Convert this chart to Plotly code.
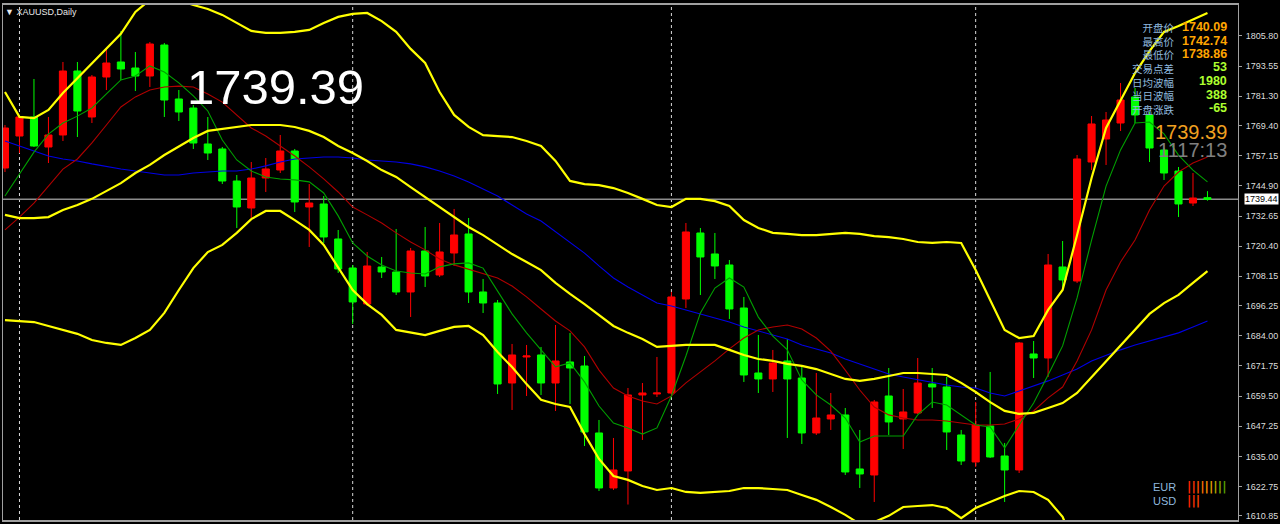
import plotly.graph_objects as go

# ---------------- data ----------------
bar_index = list(range(84))

opens = [1752.14, 1765.13, 1772.85, 1760.67, 1765.54, 1791.52, 1772.85, 1789.09, 1795.18, 1792.74,
         1789.49, 1802.08, 1780.16, 1776.50, 1761.89, 1759.86, 1746.86, 1735.90, 1748.08, 1751.33,
         1759.04, 1736.31, 1737.53, 1723.32, 1711.54, 1696.93, 1711.95, 1709.92, 1701.80, 1718.44,
         1708.70, 1717.63, 1725.35, 1701.80, 1697.33, 1664.85, 1675.41, 1676.22, 1664.85, 1673.38,
         1671.75, 1644.55, 1622.22, 1629.13, 1659.98, 1660.39, 1660.79, 1698.96, 1725.75, 1717.23,
         1712.76, 1695.30, 1668.91, 1666.48, 1673.78, 1666.88, 1644.55, 1650.24, 1651.86, 1629.94,
         1627.50, 1659.57, 1650.24, 1652.67, 1664.45, 1663.23, 1643.74, 1632.78, 1647.39, 1635.21,
         1629.53, 1676.63, 1675.00, 1711.95, 1706.26, 1754.58, 1763.92, 1770.41, 1780.97, 1773.66,
         1759.45, 1750.92, 1737.93, 1740.09]
highs = [1769.60, 1773.66, 1788.28, 1772.85, 1795.18, 1795.18, 1789.90, 1800.86, 1807.76, 1799.24,
         1803.30, 1802.89, 1783.81, 1777.72, 1772.85, 1760.67, 1749.30, 1754.58, 1756.20, 1765.54,
         1759.86, 1745.65, 1740.77, 1726.97, 1712.76, 1718.04, 1716.01, 1727.38, 1719.66, 1728.19,
         1729.81, 1735.50, 1731.84, 1707.08, 1698.55, 1680.69, 1680.28, 1679.47, 1688.40, 1685.15,
         1675.81, 1649.83, 1642.52, 1662.82, 1664.85, 1675.41, 1701.80, 1729.81, 1727.78, 1725.75,
         1714.79, 1699.77, 1684.34, 1678.25, 1682.72, 1671.35, 1668.91, 1660.79, 1654.70, 1645.77,
         1657.95, 1670.94, 1662.42, 1675.00, 1670.94, 1667.29, 1645.77, 1657.14, 1669.32, 1640.49,
         1681.50, 1681.90, 1717.23, 1722.50, 1757.42, 1773.25, 1774.88, 1786.65, 1784.62, 1774.88,
         1760.26, 1752.55, 1750.11, 1742.74]
lows = [1750.52, 1758.23, 1760.67, 1754.17, 1763.10, 1764.73, 1770.41, 1783.81, 1787.87, 1783.40,
        1785.03, 1772.85, 1771.22, 1759.86, 1755.39, 1745.65, 1727.78, 1731.84, 1742.40, 1750.11,
        1734.28, 1720.07, 1721.69, 1709.51, 1688.81, 1696.11, 1707.48, 1700.58, 1691.65, 1703.83,
        1707.89, 1712.36, 1697.33, 1693.27, 1660.39, 1653.89, 1659.57, 1659.98, 1653.48, 1656.33,
        1639.27, 1621.00, 1621.41, 1615.50, 1641.71, 1659.17, 1659.98, 1695.30, 1700.58, 1707.08,
        1690.84, 1665.26, 1660.79, 1661.20, 1642.52, 1640.09, 1643.74, 1645.77, 1627.50, 1622.22,
        1616.54, 1643.74, 1638.06, 1652.27, 1654.70, 1637.65, 1631.56, 1630.75, 1634.40, 1616.54,
        1628.31, 1666.88, 1667.29, 1702.61, 1705.45, 1751.33, 1753.36, 1767.16, 1770.41, 1754.58,
        1747.27, 1732.25, 1736.71, 1738.86]
closes = [1768.38, 1772.85, 1761.07, 1765.54, 1791.52, 1775.28, 1789.09, 1794.77, 1792.34, 1789.49,
          1802.49, 1779.75, 1774.88, 1762.29, 1758.23, 1746.86, 1736.31, 1748.08, 1751.74, 1759.04,
          1738.34, 1737.93, 1724.13, 1711.14, 1697.74, 1712.36, 1709.92, 1701.80, 1718.44, 1708.29,
          1718.04, 1724.94, 1701.80, 1697.33, 1664.45, 1676.22, 1675.81, 1664.85, 1673.78, 1670.94,
          1644.96, 1622.22, 1629.53, 1659.98, 1660.79, 1660.79, 1699.77, 1726.16, 1716.01, 1712.36,
          1694.90, 1668.10, 1666.48, 1672.97, 1666.48, 1644.55, 1650.64, 1651.86, 1628.72, 1627.91,
          1657.14, 1649.02, 1653.08, 1664.85, 1663.23, 1644.96, 1633.18, 1647.80, 1634.81, 1629.53,
          1681.09, 1675.00, 1712.76, 1706.67, 1755.80, 1770.01, 1771.63, 1779.75, 1773.66, 1760.26,
          1750.11, 1737.53, 1739.96, 1739.39]

boll_upper = [1783.0, 1772.9, 1772.4, 1775.7, 1782.6, 1788.7, 1794.4, 1800.5, 1806.6, 1815.5,
              1820.4, 1821.6, 1820.4, 1818.3, 1816.7, 1814.3, 1811.0, 1807.8, 1807.0, 1807.0,
              1807.4, 1808.2, 1811.0, 1813.5, 1814.7, 1815.1, 1811.8, 1807.4, 1800.5, 1794.8,
              1783.0, 1773.7, 1768.8, 1765.5, 1765.1, 1764.7, 1763.1, 1761.1, 1755.0, 1746.9,
              1745.6, 1745.2, 1744.0, 1742.0, 1739.6, 1737.1, 1736.3, 1739.6, 1739.6, 1738.7,
              1736.7, 1731.0, 1727.8, 1725.8, 1725.4, 1724.9, 1724.9, 1725.4, 1725.8, 1725.4,
              1724.5, 1724.1, 1723.3, 1722.1, 1721.7, 1722.1, 1721.7, 1710.7, 1698.6, 1686.4,
              1683.1, 1683.9, 1694.5, 1702.6, 1724.9, 1748.1, 1768.4, 1779.8, 1790.7, 1799.6,
              1807.4, 1809.8, 1812.6, 1815.1]
boll_mid = [1733.1, 1731.8, 1731.8, 1732.2, 1735.1, 1737.1, 1739.6, 1742.8, 1746.0, 1750.1,
            1753.4, 1757.4, 1760.7, 1764.3, 1767.2, 1768.0, 1768.8, 1769.6, 1769.6, 1769.6,
            1768.8, 1767.2, 1764.7, 1761.1, 1758.2, 1755.0, 1751.3, 1748.5, 1744.4, 1740.4,
            1736.3, 1732.2, 1728.2, 1724.9, 1720.9, 1717.2, 1714.0, 1710.7, 1705.5, 1701.0,
            1696.9, 1692.5, 1688.0, 1685.2, 1682.7, 1679.5, 1679.9, 1680.3, 1680.3, 1680.3,
            1678.3, 1676.2, 1674.6, 1673.8, 1672.6, 1671.8, 1670.5, 1668.5, 1666.5, 1665.7,
            1666.5, 1667.7, 1668.9, 1668.9, 1668.5, 1668.1, 1664.9, 1661.2, 1657.1, 1653.5,
            1652.3, 1652.7, 1654.7, 1656.7, 1660.8, 1667.3, 1673.8, 1680.3, 1686.4, 1692.9,
            1697.3, 1700.6, 1705.5, 1710.3]
boll_lower = [1690.4, 1690.0, 1689.6, 1688.0, 1686.4, 1684.8, 1682.3, 1681.1, 1680.3, 1683.1,
              1686.4, 1693.3, 1702.6, 1711.5, 1718.0, 1720.9, 1725.8, 1731.4, 1734.7, 1734.7,
              1731.0, 1727.0, 1720.9, 1712.0, 1702.6, 1696.9, 1692.5, 1686.4, 1685.2, 1684.3,
              1686.0, 1687.6, 1688.0, 1684.3, 1677.4, 1671.3, 1664.4, 1658.0, 1656.3, 1655.1,
              1644.1, 1634.0, 1627.1, 1625.5, 1623.0, 1621.4, 1622.2, 1620.6, 1620.2, 1620.6,
              1621.0, 1622.2, 1622.2, 1621.8, 1621.4, 1619.4, 1617.4, 1614.5, 1611.3, 1607.6,
              1608.4, 1610.9, 1614.5, 1614.9, 1615.3, 1614.1, 1610.0, 1614.1, 1616.5, 1619.0,
              1621.0, 1620.6, 1617.4, 1610.5, 1596.6, 1586.5, 1579.2, 1580.8, 1582.0, 1586.1,
              1587.3, 1591.4, 1598.3, 1605.6]
ma_fast = [1740.8, 1749.7, 1758.6, 1765.9, 1770.4, 1773.2, 1776.5, 1782.2, 1787.9, 1789.5,
           1793.6, 1791.1, 1786.7, 1781.4, 1775.3, 1763.5, 1755.4, 1750.9, 1748.5, 1747.7,
           1747.3, 1746.5, 1742.0, 1732.7, 1721.7, 1716.4, 1712.8, 1710.3, 1709.5, 1709.1,
           1712.0, 1713.2, 1713.6, 1711.5, 1702.2, 1692.9, 1685.2, 1678.3, 1671.4, 1673.0,
           1665.3, 1655.5, 1648.6, 1646.6, 1644.1, 1646.6, 1659.6, 1675.8, 1693.3, 1703.4,
           1707.5, 1703.8, 1691.6, 1683.9, 1678.3, 1666.1, 1660.0, 1655.9, 1650.6, 1640.9,
           1643.3, 1643.3, 1643.3, 1651.9, 1657.1, 1655.9, 1651.9, 1647.8, 1647.0, 1638.5,
           1647.8, 1656.7, 1668.1, 1679.9, 1699.4, 1722.9, 1744.8, 1759.5, 1770.4, 1770.8,
           1766.0, 1757.4, 1751.3, 1746.5]
ma_mid = [1727.0, 1732.2, 1737.9, 1744.8, 1751.7, 1755.8, 1762.3, 1769.6, 1776.9, 1781.0,
          1783.8, 1785.0, 1785.4, 1785.0, 1782.2, 1778.9, 1773.7, 1768.4, 1765.1, 1761.1,
          1757.0, 1752.6, 1747.7, 1742.4, 1736.3, 1733.1, 1729.8, 1725.8, 1722.1, 1718.9,
          1715.2, 1712.8, 1711.1, 1709.5, 1707.5, 1704.2, 1699.8, 1694.9, 1690.0, 1686.0,
          1679.5, 1670.1, 1662.8, 1659.6, 1657.5, 1656.3, 1659.6, 1664.9, 1669.3, 1673.8,
          1678.7, 1683.1, 1686.4, 1687.6, 1688.4, 1686.8, 1683.1, 1677.8, 1670.1, 1662.0,
          1655.1, 1651.9, 1650.6, 1649.8, 1649.8, 1649.4, 1648.6, 1647.8, 1647.8, 1648.2,
          1650.2, 1653.5, 1658.8, 1663.2, 1673.8, 1686.4, 1702.6, 1714.0, 1722.9, 1735.1,
          1744.8, 1750.5, 1754.2, 1756.6]
ma_slow = [1763.1, 1761.1, 1759.0, 1757.0, 1755.8, 1755.0, 1753.8, 1752.6, 1751.7, 1750.9,
           1750.1, 1749.3, 1749.3, 1750.1, 1750.5, 1750.9, 1750.9, 1751.7, 1753.0, 1754.6,
           1755.8, 1756.2, 1756.6, 1756.6, 1756.2, 1755.4, 1755.0, 1754.6, 1753.8, 1752.6,
           1750.9, 1748.9, 1746.5, 1743.6, 1740.8, 1737.1, 1733.5, 1730.6, 1726.2, 1722.1,
           1717.6, 1712.4, 1707.5, 1703.8, 1700.6, 1697.3, 1696.1, 1694.5, 1692.9, 1691.3,
           1689.6, 1687.6, 1686.0, 1684.3, 1682.7, 1680.3, 1678.7, 1677.0, 1674.6, 1672.6,
           1670.5, 1668.5, 1667.3, 1666.1, 1664.9, 1664.0, 1663.2, 1662.8, 1660.8, 1659.6,
           1661.6, 1663.6, 1665.7, 1668.1, 1670.5, 1673.8, 1676.2, 1678.3, 1680.3, 1681.9,
           1683.5, 1685.2, 1687.6, 1690.0]

period_separators = [1, 24, 46, 67]
price_ticks = [1805.80, 1793.55, 1781.30, 1769.40, 1757.15, 1744.90, 1732.65, 1720.40, 1708.15,
               1696.25, 1684.00, 1671.75, 1659.50, 1647.25, 1635.00, 1622.75, 1610.85]
bid_line = 1739.44
symbol_title = "XAUUSD,Daily"
big_price = "1739.39"
info_labels = ["开盘价", "最高价", "最低价", "交易点差", "日均波幅", "当日波幅", "开盘涨跌"]
info_values = ["1740.09", "1742.74", "1738.86", "53", "1980", "388", "-65"]
info_colors = ["#FFA500", "#FFA500", "#FFA500", "#ADFF2F", "#ADFF2F", "#ADFF2F", "#ADFF2F"]
clock_text = "1117:13"
currencies = ["EUR", "USD"]
strength_colors = [["#FF2200", "#FF3300", "#FF5000", "#FF7000", "#FF9000", "#E0A000", "#B0A800", "#80A800", "#58A000"],
                   ["#FF2200", "#FF3300", "#FF4400"]]

# ---------------- layout geometry ----------------
FIG_W, FIG_H = 1280, 524
ML, MR, MT, MB = 2, 36, 5, 4
PW, PH = FIG_W - ML - MR, FIG_H - MT - MB
X_RANGE = [-0.137, 85.107]
Y_RANGE = [1609.22, 1818.32]


def px(x):
    return (x - ML) / PW


def py(y):
    return 1 - (y - MT) / PH


fig = go.Figure()

fig.add_trace(go.Candlestick(
    x=bar_index, open=opens, high=highs, low=lows, close=closes,
    increasing=dict(line=dict(color="#FF0000", width=1), fillcolor="#FF0000"),
    decreasing=dict(line=dict(color="#00FF00", width=1), fillcolor="#00FF00"),
    whiskerwidth=0, showlegend=False, hoverinfo="skip",
))

line_specs = [
    (ma_slow, "#0000E6", 1.1),
    (ma_mid, "#B00000", 1.1),
    (ma_fast, "#00A000", 1.1),
    (boll_upper, "#FFFF00", 2.2),
    (boll_mid, "#FFFF00", 2.2),
    (boll_lower, "#FFFF00", 2.2),
]
for vals, col, w in line_specs:
    fig.add_trace(go.Scatter(x=bar_index, y=vals, mode="lines",
                             line=dict(color=col, width=w), showlegend=False, hoverinfo="skip"))

shapes = []
for s in period_separators:
    shapes.append(dict(type="line", xref="x", yref="paper", x0=s, x1=s, y0=0, y1=1,
                       line=dict(color="#D8D8D8", width=1, dash="3px,3px"), layer="below"))
shapes.append(dict(type="line", xref="paper", yref="y", x0=0, x1=1, y0=bid_line, y1=bid_line,
                   line=dict(color="#8C8C8C", width=1.5), layer="below"))

ann = []
ann.append(dict(xref="paper", yref="paper", x=px(2), y=py(12), xanchor="left", yanchor="middle",
                text="▼ " + symbol_title, showarrow=False,
                font=dict(family="Liberation Sans", size=9, color="#E8E8E8")))
ann.append(dict(xref="paper", yref="paper", x=px(185), y=py(87), xanchor="left", yanchor="middle",
                text=big_price, showarrow=False,
                font=dict(family="Liberation Sans", size=49, color="#FFFFFF")))
# label column as one multi-line block (line pitch ~13.6 px like the reference)
ann.append(dict(xref="paper", yref="paper", x=px(1183), y=py(68), xanchor="right", yanchor="middle",
                align="right", text="<br>".join(info_labels), showarrow=False,
                font=dict(family="Noto Sans CJK SC", size=10.5, color="#8FB8DE")))
row_y = [27, 40.5, 54, 67.5, 81, 94.5, 108]
for val, col, yy in zip(info_values, info_colors, row_y):
    ann.append(dict(xref="paper", yref="paper", x=px(1235), y=py(yy), xanchor="right", yanchor="middle",
                    text="<b>" + val + "</b>", showarrow=False,
                    font=dict(family="Liberation Sans", size=12.5, color=col)))
ann.append(dict(xref="paper", yref="paper", x=px(1235), y=py(132), xanchor="right", yanchor="middle",
                text=big_price, showarrow=False,
                font=dict(family="Liberation Sans", size=20, color="#F0A020")))
ann.append(dict(xref="paper", yref="paper", x=px(1235), y=py(150), xanchor="right", yanchor="middle",
                text=clock_text, showarrow=False,
                font=dict(family="Liberation Sans", size=20, color="#808080")))
for k, (cur, cols) in enumerate(zip(currencies, strength_colors)):
    yy = 487 + 14 * k
    ann.append(dict(xref="paper", yref="paper", x=px(1184), y=py(yy), xanchor="right", yanchor="middle",
                    text=cur, showarrow=False,
                    font=dict(family="Liberation Sans", size=11, color="#8FB8DE")))
    bars = "".join('<span style="color:%s">|</span>' % c for c in cols)
    ann.append(dict(xref="paper", yref="paper", x=px(1191), y=py(yy), xanchor="left", yanchor="middle",
                    text="<b>" + bars + "</b>", showarrow=False,
                    font=dict(family="DejaVu Sans", size=12)))
ann.append(dict(xref="paper", yref="y", x=1, y=bid_line, xanchor="left", yanchor="middle", xshift=6,
                text="%.2f" % bid_line, showarrow=False, bgcolor="#FFFFFF", borderpad=0,
                font=dict(family="Liberation Sans", size=9, color="#000000")))

fig.update_layout(
    width=FIG_W, height=FIG_H,
    margin=dict(l=ML, r=MR, t=MT, b=MB, pad=0),
    paper_bgcolor="#000000", plot_bgcolor="#000000",
    showlegend=False, shapes=shapes, annotations=ann,
    font=dict(family="Liberation Sans", color="#DCDCDC"),
    xaxis=dict(range=X_RANGE, showgrid=False, zeroline=False, showticklabels=False,
               showline=True, mirror=True, linecolor="#A0A0A0", linewidth=2,
               rangeslider=dict(visible=False), fixedrange=True, ticks=""),
    yaxis=dict(range=Y_RANGE, side="right", showgrid=False, zeroline=False,
               tickvals=price_ticks, ticktext=["%.2f" % v for v in price_ticks],
               ticks="outside", ticklen=3, tickcolor="#A0A0A0", ticklabelstandoff=2,
               tickfont=dict(family="Liberation Sans", size=9, color="#DCDCDC"),
               showline=True, mirror=True, linecolor="#A0A0A0", linewidth=1, fixedrange=True),
)

fig.write_html("out.html", config={"displayModeBar": False},
               post_script="document.body.style.margin='0';document.body.style.background='#000';")
